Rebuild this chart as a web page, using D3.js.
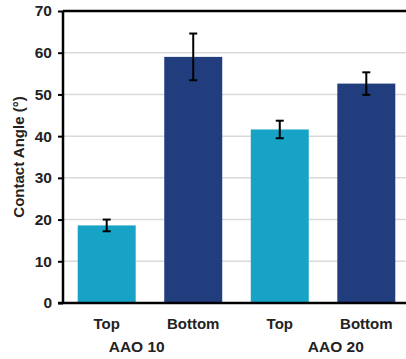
<!DOCTYPE html>
<html>
<head>
<meta charset="utf-8">
<script src="https://cdn.jsdelivr.net/npm/d3@7"></script>
<style>
  body { margin: 0; background: #fff; }
  text { font-family: Arial, "Liberation Sans", sans-serif; font-weight: bold; }
</style>
</head>
<body>
<div id="chart"></div>
<script>
// Data
const bars = ['Top 1', 'Bottom 1', 'Top 2', 'Bottom 2']
const barLabels = ['Top', 'Bottom', 'Top', 'Bottom']
const values = [18.6, 59.0, 41.6, 52.6]
const errors = [1.4, 5.6, 2.1, 2.7]
const groups = ['AAO 10', 'AAO 20']
const yTicks = [0, 10, 20, 30, 40, 50, 60, 70]

const width = 406, height = 359
const margin = {top: 11, left: 63, bottom: 56}
const plotRight = 410  // plot runs past the right edge (cropped)

const svg = d3.select('#chart')
  .append('svg')
  .attr('width', width)
  .attr('height', height)

const x = d3.scaleBand()
  .domain(bars)
  .range([margin.left, plotRight])
  .paddingInner(0.33)
  .paddingOuter(0.17)

const y = d3.scaleLinear()
  .domain([0, 70])
  .range([height - margin.bottom, margin.top])

const color = (d, i) => i % 2 === 0 ? '#16a3c6' : '#223d7d'

// gridlines
svg.append('g')
  .selectAll('line')
  .data(yTicks.filter(d => d > 0 && d < 70))
  .join('line')
  .attr('x1', margin.left)
  .attr('x2', width)
  .attr('y1', d => y(d))
  .attr('y2', d => y(d))
  .attr('stroke', '#d9d9d9')
  .attr('stroke-width', 1.5)

// bars
svg.append('g')
  .selectAll('rect')
  .data(values)
  .join('rect')
  .attr('x', (d, i) => x(bars[i]))
  .attr('width', x.bandwidth())
  .attr('y', d => y(d))
  .attr('height', d => y(0) - y(d))
  .attr('fill', color)

// error bars
const eb = svg.append('g').attr('stroke', '#000').attr('stroke-width', 2)
values.forEach((v, i) => {
  const cx = x(bars[i]) + x.bandwidth() / 2
  eb.append('line').attr('x1', cx).attr('x2', cx).attr('y1', y(v + errors[i])).attr('y2', y(v - errors[i]))
  eb.append('line').attr('x1', cx - 4).attr('x2', cx + 4).attr('y1', y(v + errors[i])).attr('y2', y(v + errors[i]))
  eb.append('line').attr('x1', cx - 4).attr('x2', cx + 4).attr('y1', y(v - errors[i])).attr('y2', y(v - errors[i]))
})

// top frame line
svg.append('line')
  .attr('x1', margin.left).attr('x2', width)
  .attr('y1', y(70)).attr('y2', y(70))
  .attr('stroke', '#000').attr('stroke-width', 2.5)

// y axis
const yAxis = svg.append('g')
  .attr('transform', `translate(${margin.left},0)`)
  .call(d3.axisLeft(y).tickValues(yTicks).tickSize(5).tickPadding(6))
yAxis.select('.domain').attr('stroke-width', 2.5).attr('d', `M0,${y(0)}V${y(70)}`)
yAxis.selectAll('.tick line').attr('stroke-width', 2)
yAxis.selectAll('.tick text').attr('font-size', 15.5).attr('fill', '#222')

// x axis line
svg.append('line')
  .attr('x1', margin.left - 5).attr('x2', width)
  .attr('y1', y(0)).attr('y2', y(0))
  .attr('stroke', '#000').attr('stroke-width', 2.5)

// x labels
svg.append('g')
  .selectAll('text')
  .data(barLabels)
  .join('text')
  .attr('x', (d, i) => x(bars[i]) + x.bandwidth() / 2)
  .attr('y', y(0) + 26)
  .attr('text-anchor', 'middle')
  .attr('font-size', 15)
  .attr('fill', '#222')
  .text(d => d)

// group labels (positioned as in original, not exactly centered)
const groupX = [x(bars[0]) + x.bandwidth() / 2 + 30, x(bars[2]) + x.bandwidth() / 2 + 56]
svg.append('g')
  .selectAll('text')
  .data(groups)
  .join('text')
  .attr('x', (d, i) => groupX[i])
  .attr('y', y(0) + 49)
  .attr('text-anchor', 'middle')
  .attr('font-size', 15.5)
  .attr('fill', '#222')
  .text(d => d)

// y title
svg.append('text')
  .attr('transform', `translate(24,${(y(0) + y(70)) / 2}) rotate(-90)`)
  .attr('text-anchor', 'middle')
  .attr('font-size', 15)
  .attr('fill', '#222')
  .text('Contact Angle (°)')
</script>
</body>
</html>
